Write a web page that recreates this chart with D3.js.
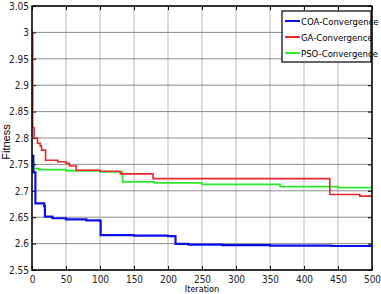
<!DOCTYPE html>
<html>
<head>
  <meta charset="utf-8">
  <script src="https://d3js.org/d3.v7.min.js"></script>
  <style>
    body { margin: 0; background: #fff; }
    text { font-family: "Liberation Sans Narrow", "DejaVu Sans Condensed", "Arial Narrow", sans-serif; }
  </style>
</head>
<body>
  <div id="chart"></div>
<script>
  // iteration / fitness pairs
  const coaIter = [0, 2, 5, 18, 19, 30, 50, 80, 100, 101, 150, 200, 211, 230, 280, 350, 440, 500];
  const coaFit  = [2.766, 2.735, 2.676, 2.671, 2.651, 2.648, 2.646, 2.644, 2.643, 2.616, 2.615, 2.614, 2.5995, 2.598, 2.597, 2.596, 2.5955, 2.5953];

  const gaIter = [0, 1, 3, 8, 12, 14, 20, 38, 50, 55, 65, 100, 130, 178, 438, 482, 500];
  const gaFit  = [3.0, 2.82, 2.80, 2.79, 2.785, 2.777, 2.758, 2.755, 2.752, 2.747, 2.739, 2.737, 2.732, 2.723, 2.693, 2.690, 2.690];

  const psoIter = [0, 2, 10, 50, 100, 133, 180, 250, 365, 450, 500];
  const psoFit  = [2.755, 2.742, 2.740, 2.738, 2.736, 2.717, 2.715, 2.712, 2.708, 2.706, 2.705];

  const xTicks = [0, 50, 100, 150, 200, 250, 300, 350, 400, 450, 500];
  const yTicks = [2.55, 2.6, 2.65, 2.7, 2.75, 2.8, 2.85, 2.9, 2.95, 3, 3.05];
  const legendNames = ["COA-Convergence", "GA-Convergence", "PSO-Convergence"];

  const W = 381, H = 294;
  const margin = { top: 6, right: 9, bottom: 24, left: 32 },
    width = W - margin.left - margin.right,
    height = H - margin.top - margin.bottom;

  const svg = d3.select("#chart").append("svg")
    .attr("width", W).attr("height", H)
    .append("g")
    .attr("transform", `translate(${margin.left},${margin.top})`);

  const x = d3.scaleLinear().domain([0, 500]).range([0, width]);
  const y = d3.scaleLinear().domain([2.55, 3.05]).range([height, 0]);

  // grid
  svg.append("g").selectAll("line").data(xTicks).enter().append("line")
    .attr("x1", d => x(d)).attr("x2", d => x(d))
    .attr("y1", 0).attr("y2", height)
    .attr("stroke", "#c4c4c4").attr("stroke-width", 1.2);
  svg.append("g").selectAll("line").data(yTicks).enter().append("line")
    .attr("x1", 0).attr("x2", width)
    .attr("y1", d => y(d)).attr("y2", d => y(d))
    .attr("stroke", "#8c8c8c").attr("stroke-width", 1);

  // axes, ticks pointing inward
  const fmtY = d => d3.format("")(+d.toFixed(2));
  svg.append("g").attr("transform", `translate(0,${height})`)
    .call(d3.axisBottom(x).tickValues(xTicks).tickSize(-4).tickPadding(6))
    .call(g => g.select(".domain").remove())
    .selectAll("text").style("font-size", "10px").attr("fill", "#222");
  svg.append("g")
    .call(d3.axisLeft(y).tickValues(yTicks).tickFormat(fmtY).tickSize(-4).tickPadding(3))
    .call(g => g.select(".domain").remove())
    .selectAll("text").style("font-size", "10px").attr("fill", "#222");
  svg.append("g")
    .call(d3.axisTop(x).tickValues(xTicks).tickSize(-4).tickFormat(""))
    .call(g => g.select(".domain").remove());
  svg.append("g").attr("transform", `translate(${width},0)`)
    .call(d3.axisRight(y).tickValues(yTicks).tickSize(-4).tickFormat(""))
    .call(g => g.select(".domain").remove());

  // series
  const series = [
    { iter: coaIter, fit: coaFit, color: "#0a10e6", w: 2.2 },
    { iter: gaIter, fit: gaFit, color: "#e8262b", w: 1.6 },
    { iter: psoIter, fit: psoFit, color: "#2ee82e", w: 1.8 }
  ];
  const line = d3.line().x(d => x(d[0])).y(d => y(d[1])).curve(d3.curveStepAfter);
  [series[2], series[1], series[0]].forEach(s => {
    svg.append("path")
      .datum(s.iter.map((t, i) => [t, s.fit[i]]))
      .attr("fill", "none")
      .attr("stroke", s.color)
      .attr("stroke-width", s.w)
      .attr("d", line);
  });

  // frame
  svg.append("rect").attr("width", width).attr("height", height)
    .attr("fill", "none").attr("stroke", "#000").attr("stroke-width", 1.5);

  // axis titles
  svg.append("text")
    .attr("x", width / 2).attr("y", height + 22)
    .attr("text-anchor", "middle").style("font-size", "9px")
    .text("Iteration");
  svg.append("text")
    .attr("transform", `translate(${-22},${height / 2 + 4}) rotate(-90)`)
    .attr("text-anchor", "middle").style("font-size", "11px")
    .style("font-family", "'Liberation Sans', Arial, sans-serif")
    .text("Fitness");

  // legend
  const lg = svg.append("g").attr("transform", `translate(${282 - margin.left},${11 - margin.top})`);
  lg.append("rect").attr("width", 89).attr("height", 51)
    .attr("fill", "#fff").attr("stroke", "#000").attr("stroke-width", 1.2);
  legendNames.forEach((n, i) => {
    const yy = 10 + i * 16;
    lg.append("line").attr("x1", 3).attr("x2", 18).attr("y1", yy).attr("y2", yy)
      .attr("stroke", series[i].color).attr("stroke-width", 2);
    lg.append("text").attr("x", 19).attr("y", yy + 3.5)
      .style("font-size", "9.5px").text(n);
  });
</script>
</body>
</html>
